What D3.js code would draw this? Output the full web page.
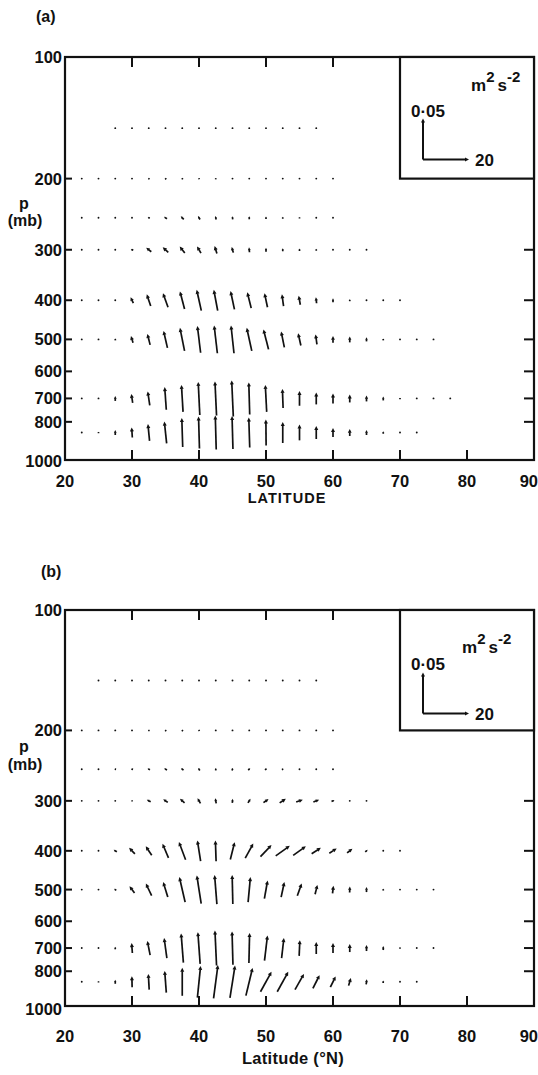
<!DOCTYPE html>
<html>
<head>
<meta charset="utf-8">
<script src="https://cdn.jsdelivr.net/npm/d3@7"></script>
<style>
  html, body { margin: 0; padding: 0; background: #fff; }
  svg { display: block; }
  text { font-family: "Liberation Sans", Arial, sans-serif; fill: #111; }
</style>
</head>
<body>
<script>
// ---------- data ----------
const latitudes = [22.5, 25, 27.5, 30, 32.5, 35, 37.5, 40, 42.5, 45, 47.5, 50, 52.5, 55, 57.5, 60, 62.5, 65, 67.5, 70, 72.5, 75, 77.5];
const levels = [150, 200, 250, 300, 400, 500, 700, 850]; // mb
const xTicks = [20, 30, 40, 50, 60, 70, 80, 90];
const pTicks = [100, 200, 300, 400, 500, 600, 700, 800, 1000];
const refFy = 20;     // legend horizontal arrow
const refFz = 0.05;   // legend vertical arrow

// Panel (a): first latitude of each level, horizontal (Fphi) and vertical (Fp) components
const aStart = [27.5, 22.5, 22.5, 22.5, 22.5, 22.5, 22.5, 22.5];
const aFy = [
  [0, 0, -0.1, -0.1, -0.1, 0, 0, 0, 0, 0, 0, 0, 0],
  [0, 0, -0.2, -0.4, -0.7, -0.7, -0.4, -0.2, 0, 0, 0, 0, 0, 0, 0, 0],
  [0, 0, -0.1, -0.4, -0.9, -1.3, -1.3, -0.9, -0.4, -0.2, 0, 0, 0, 0, 0, 0],
  [0, 0, -0.4, -1.1, -2.2, -2.4, -2.2, -1.7, -1.0, -0.7, -0.2, 0, 0, 0, 0, 0, 0, 0],
  [0, 0, -0.2, -1.2, -1.7, -2.2, -2.0, -2.0, -1.7, -1.7, -1.7, -1.3, -0.7, -0.7, -0.3, 0, 0, 0, 0, 0],
  [0, 0, -0.2, -0.9, -1.2, -1.7, -2.0, -1.4, -1.4, -1.3, -2.2, -2.2, -1.4, -1.2, -0.6, 0, 0, 0, 0, 0, 0, 0],
  [0, 0, 0, -0.6, -0.9, -0.7, -0.7, -0.7, -0.7, -0.7, -0.4, -0.6, -0.3, 0, 0, 0, 0, 0, 0, 0, 0, 0, 0],
  [0, 0, 0, -0.3, -0.7, -1.0, -0.4, -0.4, -0.4, -0.4, -0.4, -0.1, 0, 0, 0, 0, 0, 0, 0, 0, 0]
];
const aFz = [
  [0, 0.0004, 0.0004, 0.0004, 0.0004, 0.0004, 0.0004, 0.0004, 0.0004, 0.0004, 0.0002, 0.0002, 0],
  [0, 0, 0.0002, 0.0009, 0.0012, 0.0015, 0.0018, 0.0018, 0.0018, 0.0012, 0.0012, 0.0009, 0.0006, 0.0004, 0.0004, 0],
  [0, 0, 0, 0.0004, 0.0012, 0.0024, 0.0037, 0.0043, 0.0043, 0.0037, 0.0037, 0.0031, 0.0024, 0.0018, 0.0012, 0.0006],
  [0, 0, 0.0002, 0.0009, 0.0049, 0.0061, 0.0079, 0.0082, 0.0092, 0.0070, 0.0061, 0.0049, 0.0037, 0.0031, 0.0024, 0.0012, 0.0006, 0.0004],
  [0, 0, 0.0012, 0.0073, 0.0143, 0.0171, 0.0216, 0.0253, 0.0253, 0.0223, 0.0192, 0.0171, 0.0143, 0.0110, 0.0073, 0.0049, 0.0024, 0.0012, 0.0006, 0],
  [0, 0, 0.0024, 0.0082, 0.0134, 0.0207, 0.0281, 0.0326, 0.0338, 0.0338, 0.0281, 0.0244, 0.0195, 0.0150, 0.0122, 0.0085, 0.0073, 0.0049, 0.0024, 0.0012, 0, 0],
  [0, 0.0006, 0.0061, 0.0110, 0.0171, 0.0277, 0.0329, 0.0403, 0.0415, 0.0439, 0.0390, 0.0329, 0.0232, 0.0179, 0.0146, 0.0122, 0.0098, 0.0073, 0.0049, 0.0018, 0.0006, 0.0004, 0],
  [0, 0.0018, 0.0061, 0.0122, 0.0204, 0.0265, 0.0354, 0.0390, 0.0415, 0.0403, 0.0366, 0.0317, 0.0256, 0.0192, 0.0159, 0.0110, 0.0085, 0.0061, 0.0031, 0.0012, 0]
];

// Panel (b)
const bStart = [25, 22.5, 22.5, 22.5, 22.5, 22.5, 22.5, 22.5];
const bFy = [
  [0, 0, -0.1, -0.2, -0.2, -0.1, 0, 0, 0, 0, 0, 0, 0, 0],
  [0, 0, -0.2, -0.4, -0.7, -0.7, -0.7, -0.4, 0, 0, 0.2, 0.2, 0.1, 0, 0, 0],
  [0, -0.4, -0.7, -0.9, -1.1, -1.3, -1.1, -0.7, 0, 0.4, 0.9, 0.9, 0.7, 0.4, 0.2, 0],
  [0, -0.4, -0.4, -0.6, -1.7, -2.0, -2.0, -1.3, -0.4, 0.2, 1.1, 2.2, 2.7, 2.9, 2.5, 1.3, 0.4, 0],
  [0, -0.4, -1.4, -2.5, -2.6, -2.6, -2.9, -1.4, -0.3, 1.9, 3.5, 4.8, 6.1, 5.5, 4.0, 3.2, 2.3, 1.1, 0.2, 0],
  [0, 0, -0.9, -2.2, -2.5, -2.0, -2.5, -1.9, -1.0, -0.3, 1.0, 1.4, 1.4, 1.9, 1.0, 0.4, 0.1, 0, 0, 0, 0, 0],
  [0, 0, 0, -0.3, -1.2, -1.2, -1.0, -1.0, -0.7, -0.4, 0.3, 1.3, 1.0, 0.3, 0, 0, 0, 0, 0, 0, 0, 0],
  [0, 0, 0, -0.1, -0.4, -0.7, 0, 1.4, 1.9, 2.2, 2.9, 4.8, 4.8, 3.9, 2.9, 2.3, 1.0, 0.3, 0.1, 0, 0]
];
const bFz = [
  [0, 0.0002, 0.0002, 0.0004, 0.0004, 0.0004, 0.0004, 0.0004, 0.0004, 0.0002, 0.0002, 0.0002, 0, 0],
  [0, 0, 0, 0.0004, 0.0009, 0.0012, 0.0012, 0.0016, 0.0012, 0.0012, 0.0012, 0.0009, 0.0006, 0.0004, 0.0004, 0],
  [0, 0, 0.0004, 0.0006, 0.0012, 0.0018, 0.0024, 0.0031, 0.0031, 0.0031, 0.0024, 0.0018, 0.0012, 0.0006, 0.0004, 0],
  [0, 0, 0, 0.0004, 0.0024, 0.0037, 0.0049, 0.0061, 0.0061, 0.0049, 0.0049, 0.0043, 0.0049, 0.0028, 0.0028, 0.0012, 0.0004, 0],
  [0, 0, 0.0024, 0.0073, 0.0110, 0.0171, 0.0216, 0.0253, 0.0253, 0.0211, 0.0179, 0.0140, 0.0122, 0.0110, 0.0073, 0.0057, 0.0049, 0.0024, 0.0004, 0],
  [0, 0, 0.0018, 0.0082, 0.0146, 0.0183, 0.0305, 0.0345, 0.0354, 0.0354, 0.0305, 0.0220, 0.0183, 0.0150, 0.0113, 0.0094, 0.0073, 0.0061, 0.0024, 0.0006, 0, 0],
  [0, 0.0004, 0.0031, 0.0122, 0.0174, 0.0244, 0.0357, 0.0387, 0.0427, 0.0406, 0.0366, 0.0305, 0.0244, 0.0192, 0.0146, 0.0122, 0.0098, 0.0073, 0.0049, 0.0018, 0, 0],
  [0, 0.0018, 0.0049, 0.0134, 0.0192, 0.0265, 0.0342, 0.0387, 0.0406, 0.0394, 0.0338, 0.0244, 0.0244, 0.0192, 0.0162, 0.0131, 0.0094, 0.0061, 0.0031, 0.0012, 0]
];

// ---------- drawing ----------
const W = 538, H = 1075;
const svg = d3.select("body").append("svg").attr("width", W).attr("height", H);

const x = d3.scaleLinear().domain([20, 90]).range([65, 534]);
const ku = d3.scaleLinear().domain([0, refFy]).range([0, 46]);
const kv = d3.scaleLinear().domain([0, refFz]).range([0, 41]);

function arrow(g, cx, cy, dx, dy, width) {
  const L = Math.hypot(dx, dy);
  if (L < 1.2) {
    g.append("circle").attr("cx", cx).attr("cy", cy).attr("r", 0.95).attr("fill", "#111");
    return;
  }
  const tx = cx - dx / 2, ty = cy - dy / 2;
  const hx = cx + dx / 2, hy = cy + dy / 2;
  const ux = dx / L, uy = dy / L;
  const hl = Math.min(4, L * 0.55), hw = Math.min(2, hl * 0.5);
  const bx = hx - ux * hl, by = hy - uy * hl;
  g.append("line").attr("x1", tx).attr("y1", ty).attr("x2", bx + ux * 0.5).attr("y2", by + uy * 0.5)
    .attr("stroke", "#111").attr("stroke-width", width);
  g.append("path")
    .attr("d", `M${hx},${hy}L${bx - uy * hw},${by + ux * hw}L${bx + uy * hw},${by - ux * hw}Z`)
    .attr("fill", "#111");
}

function panel(opt) {
  const y = d3.scaleLog().domain([100, 1000]).range([opt.top, opt.bottom]);
  const g = svg.append("g");
  const left = x.range()[0], right = x.range()[1];
  const yTop = opt.top, yBot = opt.frameBottom;

  // arrows
  levels.forEach((p, i) => {
    const i0 = latitudes.indexOf(opt.start[i]);
    opt.fy[i].forEach((fy, j) => {
      const lat = latitudes[i0 + j];
      const fz = opt.fz[i][j];
      arrow(g, x(lat), y(p), Math.sign(fy) * ku(Math.abs(fy)), -Math.sign(fz) * kv(Math.abs(fz)), 1.7);
    });
  });

  // frame
  g.append("rect").attr("x", left).attr("y", yTop).attr("width", right - left).attr("height", yBot - yTop)
    .attr("fill", "none").attr("stroke", "#111").attr("stroke-width", 2.2);

  // ticks
  const tk = g.append("g").attr("stroke", "#111").attr("stroke-width", 2);
  xTicks.slice(1, -1).forEach(v => {
    tk.append("line").attr("x1", x(v)).attr("x2", x(v)).attr("y1", yBot).attr("y2", yBot - 10);
    if (v !== 70) tk.append("line").attr("x1", x(v)).attr("x2", x(v)).attr("y1", yTop).attr("y2", yTop + 10);
  });
  pTicks.slice(1, -1).forEach(v => {
    tk.append("line").attr("x1", left).attr("x2", left + 7).attr("y1", y(v)).attr("y2", y(v));
    if (v > 200) tk.append("line").attr("x1", right).attr("x2", right - 10).attr("y1", y(v)).attr("y2", y(v));
  });

  // tick labels
  const fs = 16.5;
  pTicks.forEach(v => {
    const yy = v === 1000 ? opt.y1000 : y(v);
    g.append("text").attr("x", left - 3).attr("y", yy).attr("dy", "0.36em")
      .attr("text-anchor", "end").attr("font-size", fs).attr("font-weight", "bold").text(v);
  });
  xTicks.forEach(v => {
    const last = v === 90;
    g.append("text").attr("x", last ? W : x(v)).attr("y", opt.xLabelY)
      .attr("text-anchor", last ? "end" : "middle").attr("font-size", fs).attr("font-weight", "bold").text(v);
  });

  // y-axis title
  g.append("text").attr("x", 24).attr("y", opt.pY).attr("text-anchor", "middle")
    .attr("font-size", 16).attr("font-weight", "bold").text("p");
  g.append("text").attr("x", 25).attr("y", opt.mbY).attr("text-anchor", "middle")
    .attr("font-size", 16).attr("font-weight", "bold").text("(mb)");

  // panel label
  g.append("text").attr("x", opt.labelX).attr("y", opt.labelY).attr("font-size", 16)
    .attr("font-weight", "bold").text(opt.label);

  // x title
  g.append("text").attr("x", opt.titleX).attr("y", opt.titleY).attr("text-anchor", "middle")
    .attr("font-size", opt.titleSize).attr("font-weight", "bold")
    .attr("letter-spacing", opt.titleSpacing).text(opt.title);

  // legend box
  const lx = x(70), ly = y(200);
  g.append("rect").attr("x", lx).attr("y", yTop).attr("width", right - lx).attr("height", ly - yTop)
    .attr("fill", "#fff").attr("stroke", "#111").attr("stroke-width", 2.2);
  const ax = lx + 23, ay = ly - opt.legArrowUp;
  arrow(g, ax, ay - kv(refFz) / 2, 0, -kv(refFz), 2);
  arrow(g, ax + ku(refFy) / 2, ay, ku(refFy), 0, 2);
  g.append("text").attr("x", ax + ku(refFy) + 6).attr("y", ay).attr("dy", "0.36em")
    .attr("font-size", 17).attr("font-weight", "bold").text(refFy);
  g.append("text").attr("x", lx + 11).attr("y", ay - kv(refFz) - 2)
    .attr("font-size", 17).attr("font-weight", "bold").text("0·05");
  const u = g.append("text").attr("x", opt.unitX).attr("y", opt.unitY)
    .attr("font-size", 17).attr("font-weight", "bold");
  u.append("tspan").text("m");
  u.append("tspan").attr("dy", -9).attr("font-size", 15).text("2");
  u.append("tspan").attr("dy", 9).attr("dx", 3).text("s");
  u.append("tspan").attr("dy", -9).attr("font-size", 15).text("-2");
}

panel({
  top: 57, bottom: 461, frameBottom: 460, y1000: 461,
  start: aStart, fy: aFy, fz: aFz,
  label: "(a)", labelX: 36, labelY: 22,
  pY: 209, mbY: 226, xLabelY: 487, legArrowUp: 19,
  title: "LATITUDE", titleX: 287, titleY: 503, titleSize: 14.5, titleSpacing: 1,
  unitX: 471, unitY: 91
});
panel({
  top: 610, bottom: 1010, frameBottom: 1006, y1000: 1009,
  start: bStart, fy: bFy, fz: bFz,
  label: "(b)", labelX: 41, labelY: 577,
  pY: 752, mbY: 770, xLabelY: 1042, legArrowUp: 17,
  title: "Latitude (°N)", titleX: 293, titleY: 1064, titleSize: 16.5, titleSpacing: 0.3,
  unitX: 462, unitY: 653
});
</script>
</body>
</html>
